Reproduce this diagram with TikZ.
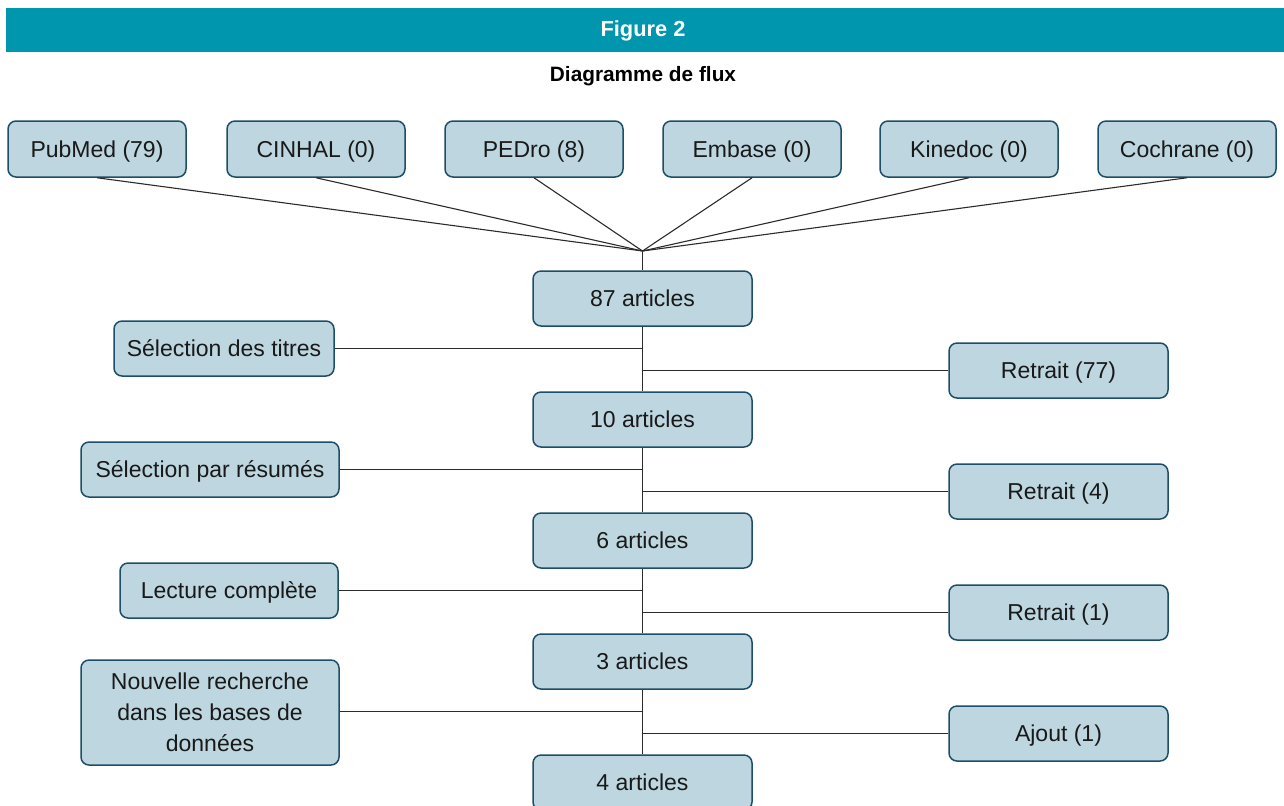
\documentclass[tikz,border=0pt]{standalone}
\usepackage{fontspec}
\setmainfont{Liberation Sans}
\usetikzlibrary{calc}
\definecolor{headteal}{HTML}{0096AE}
\definecolor{boxfill}{HTML}{BDD6DF}
\definecolor{boxline}{HTML}{1D4E69}
\definecolor{linkgray}{HTML}{2B2B2B}
\begin{document}
\begin{tikzpicture}[x=0.5pt,y=-0.5pt,
  flowbox/.style={draw=boxline, fill=boxfill, line width=0.75pt, rounded corners=4pt,
    minimum height=27.5pt, inner sep=2pt, align=center, text=black!90,
    font=\fontsize{11.5}{15.5}\selectfont},
  onebox/.style={flowbox, text height=8.2pt, text depth=0pt},
  srcbox/.style={onebox, minimum width=89pt, minimum height=28pt},
  mainbox/.style={onebox, minimum width=109.5pt},
  outbox/.style={onebox, minimum width=109.5pt},
  link/.style={draw=linkgray, line width=0.55pt}]
\useasboundingbox (0,0) rectangle (1284,805);
\clip (0,0) rectangle (1284,805);

% title band
\fill[headteal] (6,8) rectangle (1284,52);
\node[text=white, font=\fontsize{10.9}{12}\selectfont\bfseries] (title) at (643,31) {Figure 2};
\node[font=\fontsize{10.4}{12}\selectfont\bfseries] (subtitle) at (643,76) {Diagramme de flux};

% databases
\node[srcbox] (pubmed) at (97,149) {PubMed (79)};
\node[srcbox] (cinhal) at (316,149) {CINHAL (0)};
\node[srcbox] (pedro) at (534,149) {PEDro (8)};
\node[srcbox] (embase) at (752,149) {Embase (0)};
\node[srcbox] (kinedoc) at (969,149) {Kinedoc (0)};
\node[srcbox] (cochrane) at (1187,149) {Cochrane (0)};
\coordinate (hub) at (642.5,251);

% main column
\node[mainbox] (a87) at (642.5,298.5) {87 articles};
\node[mainbox] (a10) at (642.5,419.5) {10 articles};
\node[mainbox] (a6) at (642.5,540.5) {6 articles};
\node[mainbox] (a3) at (642.5,661.5) {3 articles};
\node[mainbox] (a4) at (642.5,782.5) {4 articles};

% screening steps
\node[onebox, minimum width=110pt] (titres) at (224,348.5) {Sélection des titres};
\node[onebox, minimum width=129pt] (resumes) at (210,469.5) {Sélection par résumés};
\node[onebox, minimum width=109pt] (lecture) at (229,590.5) {Lecture complète};
\node[flowbox, minimum width=129pt, minimum height=52.5pt] (nouvelle) at (210,712.5)
  {Nouvelle recherche\\dans les bases de\\données};

% outcomes
\node[outbox] (r77) at (1058.5,370.5) {Retrait (77)};
\node[outbox] (r4) at (1058.5,491.5) {Retrait (4)};
\node[outbox] (r1) at (1058.5,612.5) {Retrait (1)};
\node[outbox] (aj1) at (1058.5,733.5) {Ajout (1)};

% connectors
\foreach \s in {pubmed,cinhal,pedro,embase,kinedoc,cochrane}
  \draw[link] (\s.south) -- (hub);
\draw[link] (hub) -- (a87.north);
\draw[link] (a87.south) -- (a10.north);
\draw[link] (a10.south) -- (a6.north);
\draw[link] (a6.south) -- (a3.north);
\draw[link] (a3.south) -- (a4.north);
\foreach \l in {titres,resumes,lecture}
  \draw[link] (\l.east) -- (\l.east -| a87.south);
\draw[link] ([yshift=0.5pt]nouvelle.east) -- ([yshift=0.5pt]nouvelle.east -| a87.south);
\foreach \r in {r77,r4,r1,aj1}
  \draw[link] (\r.west) -- (\r.west -| a87.south);
\end{tikzpicture}
\end{document}
